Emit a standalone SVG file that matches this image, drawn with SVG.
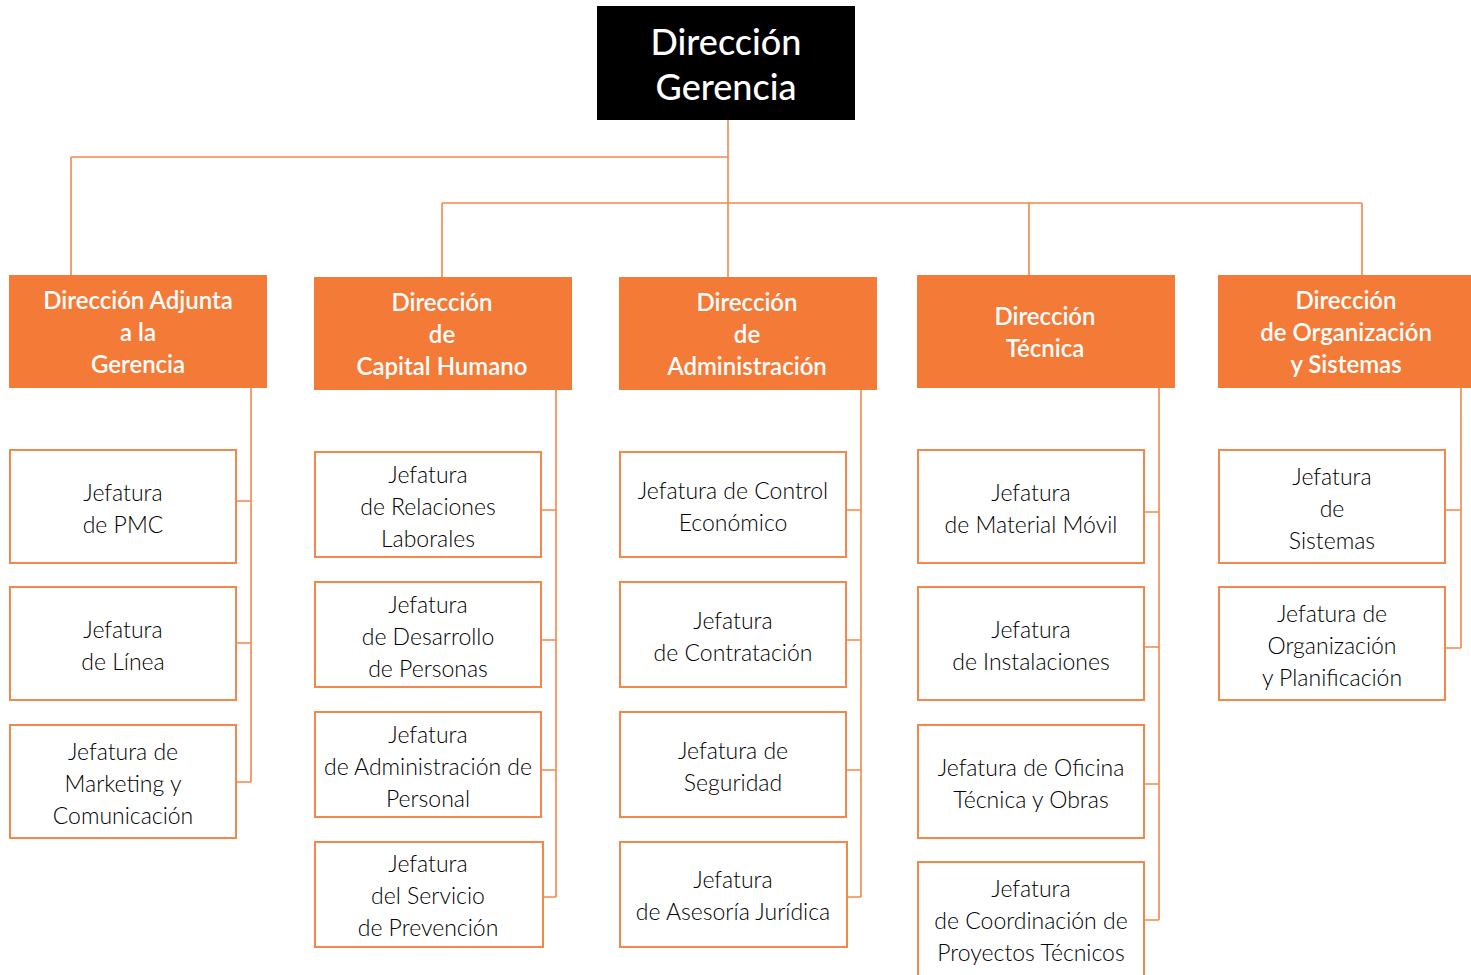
<svg xmlns="http://www.w3.org/2000/svg" width="1471" height="975" viewBox="0 0 1471 975">
<style>
.bg{fill:#ffffff}
.top{fill:#000000}
.hdr{fill:#F47A38}
.box{fill:#ffffff;stroke:#F4884A;stroke-width:2}
.ln{fill:none;stroke:#F4884A;stroke-width:1.6}
.tt{font-family:Lato,"Open Sans","Liberation Sans",sans-serif;font-size:36px;fill:#ffffff;text-anchor:middle;font-weight:500}
.ht{font-family:Lato,"Open Sans","Liberation Sans",sans-serif;font-size:24px;fill:#ffffff;text-anchor:middle;font-weight:600}
.ct{font-family:Lato,"Open Sans","Liberation Sans",sans-serif;font-size:23px;fill:#000000;text-anchor:middle;font-weight:300}
</style>
<rect class="bg" x="0" y="0" width="1471" height="975"/>
<g id="connectors">
<path class="ln" d="M728 120V277M71 157H728M71 157V275M442 203H1362M442 203V277M1029 203V275M1362 203V275"/>
<path class="ln" d="M251 388V782M236 501H251M236 643H251M236 782H251"/>
<path class="ln" d="M556 390V897M541 510H556M541 640H556M541 770H556M543 897H556"/>
<path class="ln" d="M861 390V897M846 510H861M846 640H861M846 770H861M847 897H861"/>
<path class="ln" d="M1159 388V920M1144 512H1159M1144 647H1159M1144 784H1159M1144 920H1159"/>
<path class="ln" d="M1461 388V648M1445 510H1461M1445 648H1461"/>
</g>
<g id="n-top"><rect class="top" x="597" y="6" width="258" height="114"/>
<text class="tt" x="726" y="55">Dirección</text><text class="tt" x="726" y="100">Gerencia</text></g>
<g id="n-h1"><rect class="hdr" x="9" y="275" width="258" height="113"/>
<text class="ht" x="138" y="309">Dirección Adjunta</text><text class="ht" x="138" y="341">a la</text><text class="ht" x="138" y="373">Gerencia</text></g>
<g id="n-h2"><rect class="hdr" x="314" y="277" width="258" height="113"/>
<text class="ht" x="442" y="311">Dirección</text><text class="ht" x="442" y="343">de</text><text class="ht" x="442" y="375">Capital Humano</text></g>
<g id="n-h3"><rect class="hdr" x="619" y="277" width="258" height="113"/>
<text class="ht" x="747" y="311">Dirección</text><text class="ht" x="747" y="343">de</text><text class="ht" x="747" y="375">Administración</text></g>
<g id="n-h4"><rect class="hdr" x="917" y="275" width="258" height="113"/>
<text class="ht" x="1045" y="325">Dirección</text><text class="ht" x="1045" y="357">Técnica</text></g>
<g id="n-h5"><rect class="hdr" x="1218" y="275" width="253" height="113"/>
<text class="ht" x="1346" y="309">Dirección</text><text class="ht" x="1346" y="341">de Organización</text><text class="ht" x="1346" y="373">y Sistemas</text></g>

<g id="n-c1a"><rect class="box" x="10" y="450" width="226" height="113"/>
<text class="ct" x="123" y="501">Jefatura</text><text class="ct" x="123" y="533">de PMC</text></g>
<g id="n-c1b"><rect class="box" x="10" y="587" width="226" height="113"/>
<text class="ct" x="123" y="638">Jefatura</text><text class="ct" x="123" y="670">de Línea</text></g>
<g id="n-c1c"><rect class="box" x="10" y="725" width="226" height="113"/>
<text class="ct" x="123" y="760">Jefatura de</text><text class="ct" x="123" y="792">Marketing y</text><text class="ct" x="123" y="824">Comunicación</text></g>

<g id="n-c2a"><rect class="box" x="315" y="452" width="226" height="105"/>
<text class="ct" x="428" y="483">Jefatura</text><text class="ct" x="428" y="515">de Relaciones</text><text class="ct" x="428" y="547">Laborales</text></g>
<g id="n-c2b"><rect class="box" x="315" y="582" width="226" height="105"/>
<text class="ct" x="428" y="613">Jefatura</text><text class="ct" x="428" y="645">de Desarrollo</text><text class="ct" x="428" y="677">de Personas</text></g>
<g id="n-c2c"><rect class="box" x="315" y="712" width="226" height="105"/>
<text class="ct" x="428" y="743">Jefatura</text><text class="ct" x="428" y="775">de Administración de</text><text class="ct" x="428" y="807">Personal</text></g>
<g id="n-c2d"><rect class="box" x="315" y="842" width="228" height="105"/>
<text class="ct" x="428" y="872">Jefatura</text><text class="ct" x="428" y="904">del Servicio</text><text class="ct" x="428" y="936">de Prevención</text></g>

<g id="n-c3a"><rect class="box" x="620" y="452" width="226" height="105"/>
<text class="ct" x="733" y="499">Jefatura de Control</text><text class="ct" x="733" y="531">Económico</text></g>
<g id="n-c3b"><rect class="box" x="620" y="582" width="226" height="105"/>
<text class="ct" x="733" y="629">Jefatura</text><text class="ct" x="733" y="661">de Contratación</text></g>
<g id="n-c3c"><rect class="box" x="620" y="712" width="226" height="105"/>
<text class="ct" x="733" y="759">Jefatura de</text><text class="ct" x="733" y="791">Seguridad</text></g>
<g id="n-c3d"><rect class="box" x="620" y="842" width="227" height="105"/>
<text class="ct" x="733" y="888">Jefatura</text><text class="ct" x="733" y="920">de Asesoría Jurídica</text></g>

<g id="n-c4a"><rect class="box" x="918" y="450" width="226" height="113"/>
<text class="ct" x="1031" y="501">Jefatura</text><text class="ct" x="1031" y="533">de Material Móvil</text></g>
<g id="n-c4b"><rect class="box" x="918" y="587" width="226" height="113"/>
<text class="ct" x="1031" y="638">Jefatura</text><text class="ct" x="1031" y="670">de Instalaciones</text></g>
<g id="n-c4c"><rect class="box" x="918" y="725" width="226" height="113"/>
<text class="ct" x="1031" y="776">Jefatura de Oficina</text><text class="ct" x="1031" y="808">Técnica y Obras</text></g>
<g id="n-c4d"><rect class="box" x="918" y="862" width="226" height="125"/>
<text class="ct" x="1031" y="897">Jefatura</text><text class="ct" x="1031" y="929">de Coordinación de</text><text class="ct" x="1031" y="961">Proyectos Técnicos</text></g>

<g id="n-c5a"><rect class="box" x="1219" y="450" width="226" height="113"/>
<text class="ct" x="1332" y="485">Jefatura</text><text class="ct" x="1332" y="517">de</text><text class="ct" x="1332" y="549">Sistemas</text></g>
<g id="n-c5b"><rect class="box" x="1219" y="587" width="226" height="113"/>
<text class="ct" x="1332" y="622">Jefatura de</text><text class="ct" x="1332" y="654">Organización</text><text class="ct" x="1332" y="686">y Planificación</text></g>
</svg>
